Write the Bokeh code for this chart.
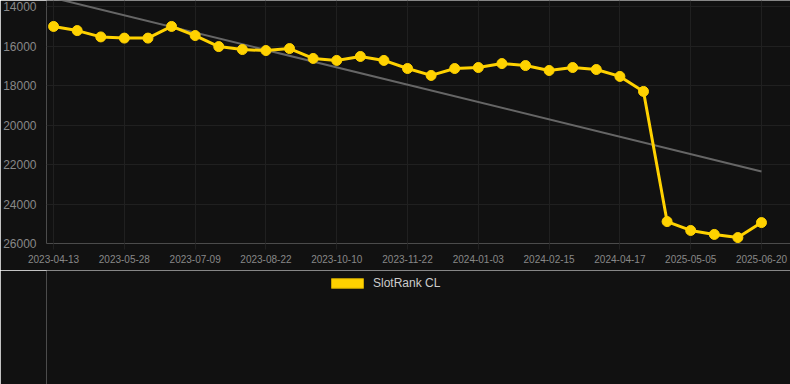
from bokeh.plotting import figure
from bokeh.layouts import column
from bokeh.models import Range1d, FixedTicker, Legend, LegendItem, ColumnDataSource
from bokeh.embed import file_html
from bokeh.resources import INLINE

dates = ["2023-04-13", "2023-04-28", "2023-05-13", "2023-05-28", "2023-06-10", "2023-06-24",
         "2023-07-09", "2023-07-23", "2023-08-07", "2023-08-22", "2023-09-06", "2023-09-22",
         "2023-10-10", "2023-10-24", "2023-11-07", "2023-11-22", "2023-12-06", "2023-12-20",
         "2024-01-03", "2024-01-17", "2024-01-31", "2024-02-15", "2024-03-05", "2024-03-26",
         "2024-04-17", "2024-05-08", "2025-04-20", "2025-05-05", "2025-05-20", "2025-06-05",
         "2025-06-20"]
ranks = [15010, 15220, 15540, 15600, 15600, 15010, 15470, 16030, 16180, 16230, 16130, 16630,
         16730, 16530, 16730, 17140, 17490, 17140, 17090, 16890, 16990, 17240, 17090, 17190,
         17540, 18300, 24890, 25340, 25540, 25700, 24940]
trend_ends = [13570, 22350]
y_ticks = [14000, 16000, 18000, 20000, 22000, 24000, 26000]
series_name = "SlotRank CL"
label_every = 3

idx = list(range(len(dates)))
BG = "#111111"
GRID = "#202020"
YEL = "#FFD200"
FONT = "Liberation Sans"

p = figure(width=790, height=270, output_backend="svg", toolbar_location=None,
           x_range=Range1d(-0.3, 31.23), y_range=Range1d(26000, 13696),
           background_fill_color=BG, border_fill_color=BG, outline_line_color=None,
           min_border_left=46, min_border_right=0, min_border_top=0, min_border_bottom=27)

# trend line
p.line([idx[0], idx[-1]], trend_ends, line_color="#666666", line_width=2)
# main series
src = ColumnDataSource(dict(x=idx, y=ranks))
p.line("x", "y", source=src, line_color=YEL, line_width=3)
p.scatter("x", "y", source=src, size=10, fill_color=YEL, line_color=YEL)

xt = idx[::label_every]
p.xaxis.ticker = FixedTicker(ticks=xt)
p.xaxis.major_label_overrides = {i: dates[i] for i in xt}
p.yaxis.ticker = FixedTicker(ticks=y_ticks)

for ax in (p.xaxis, p.yaxis):
    ax.axis_line_color = None
    ax.minor_tick_line_color = None
    ax.major_label_text_color = "#888888"
    ax.major_label_text_font = FONT
p.xaxis.major_label_text_font_size = "10px"
p.yaxis.major_label_text_font_size = "12px"
p.xaxis.major_tick_line_color = GRID
p.xaxis.major_tick_out = 6
p.xaxis.major_tick_in = 0
p.xaxis.major_label_standoff = 5
p.yaxis.major_tick_line_color = None
p.yaxis.major_tick_out = 0
p.yaxis.major_tick_in = 0
p.yaxis.major_label_standoff = 10

p.xgrid.grid_line_color = GRID
p.ygrid.grid_line_color = GRID

# legend strip below the chart
lg = figure(width=790, height=114, output_backend="svg", toolbar_location=None,
            x_range=Range1d(0, 1), y_range=Range1d(0, 1),
            x_axis_type=None, y_axis_type=None,
            background_fill_color=BG, background_fill_alpha=1,
            border_fill_color=BG, outline_line_color=None,
            min_border_left=0, min_border_right=0, min_border_top=0, min_border_bottom=0)
lg.xgrid.visible = False
lg.ygrid.visible = False
dummy = lg.quad(left=[-10], right=[-9], top=[-10], bottom=[-11], fill_color=YEL,
                line_color="#c9a400", line_width=1)
legend = Legend(items=[LegendItem(label=series_name, renderers=[dummy])],
                orientation="horizontal", location=(281, 94),
                background_fill_color=BG, background_fill_alpha=0, border_line_color=None,
                label_text_color="#cccccc", label_text_font=FONT, label_text_font_size="12px",
                glyph_width=40, glyph_height=12, label_standoff=6, margin=0, padding=6)
lg.add_layout(legend, "center")

layout = column(p, lg, spacing=0)
open("out.html", "w").write(file_html(layout, INLINE))
